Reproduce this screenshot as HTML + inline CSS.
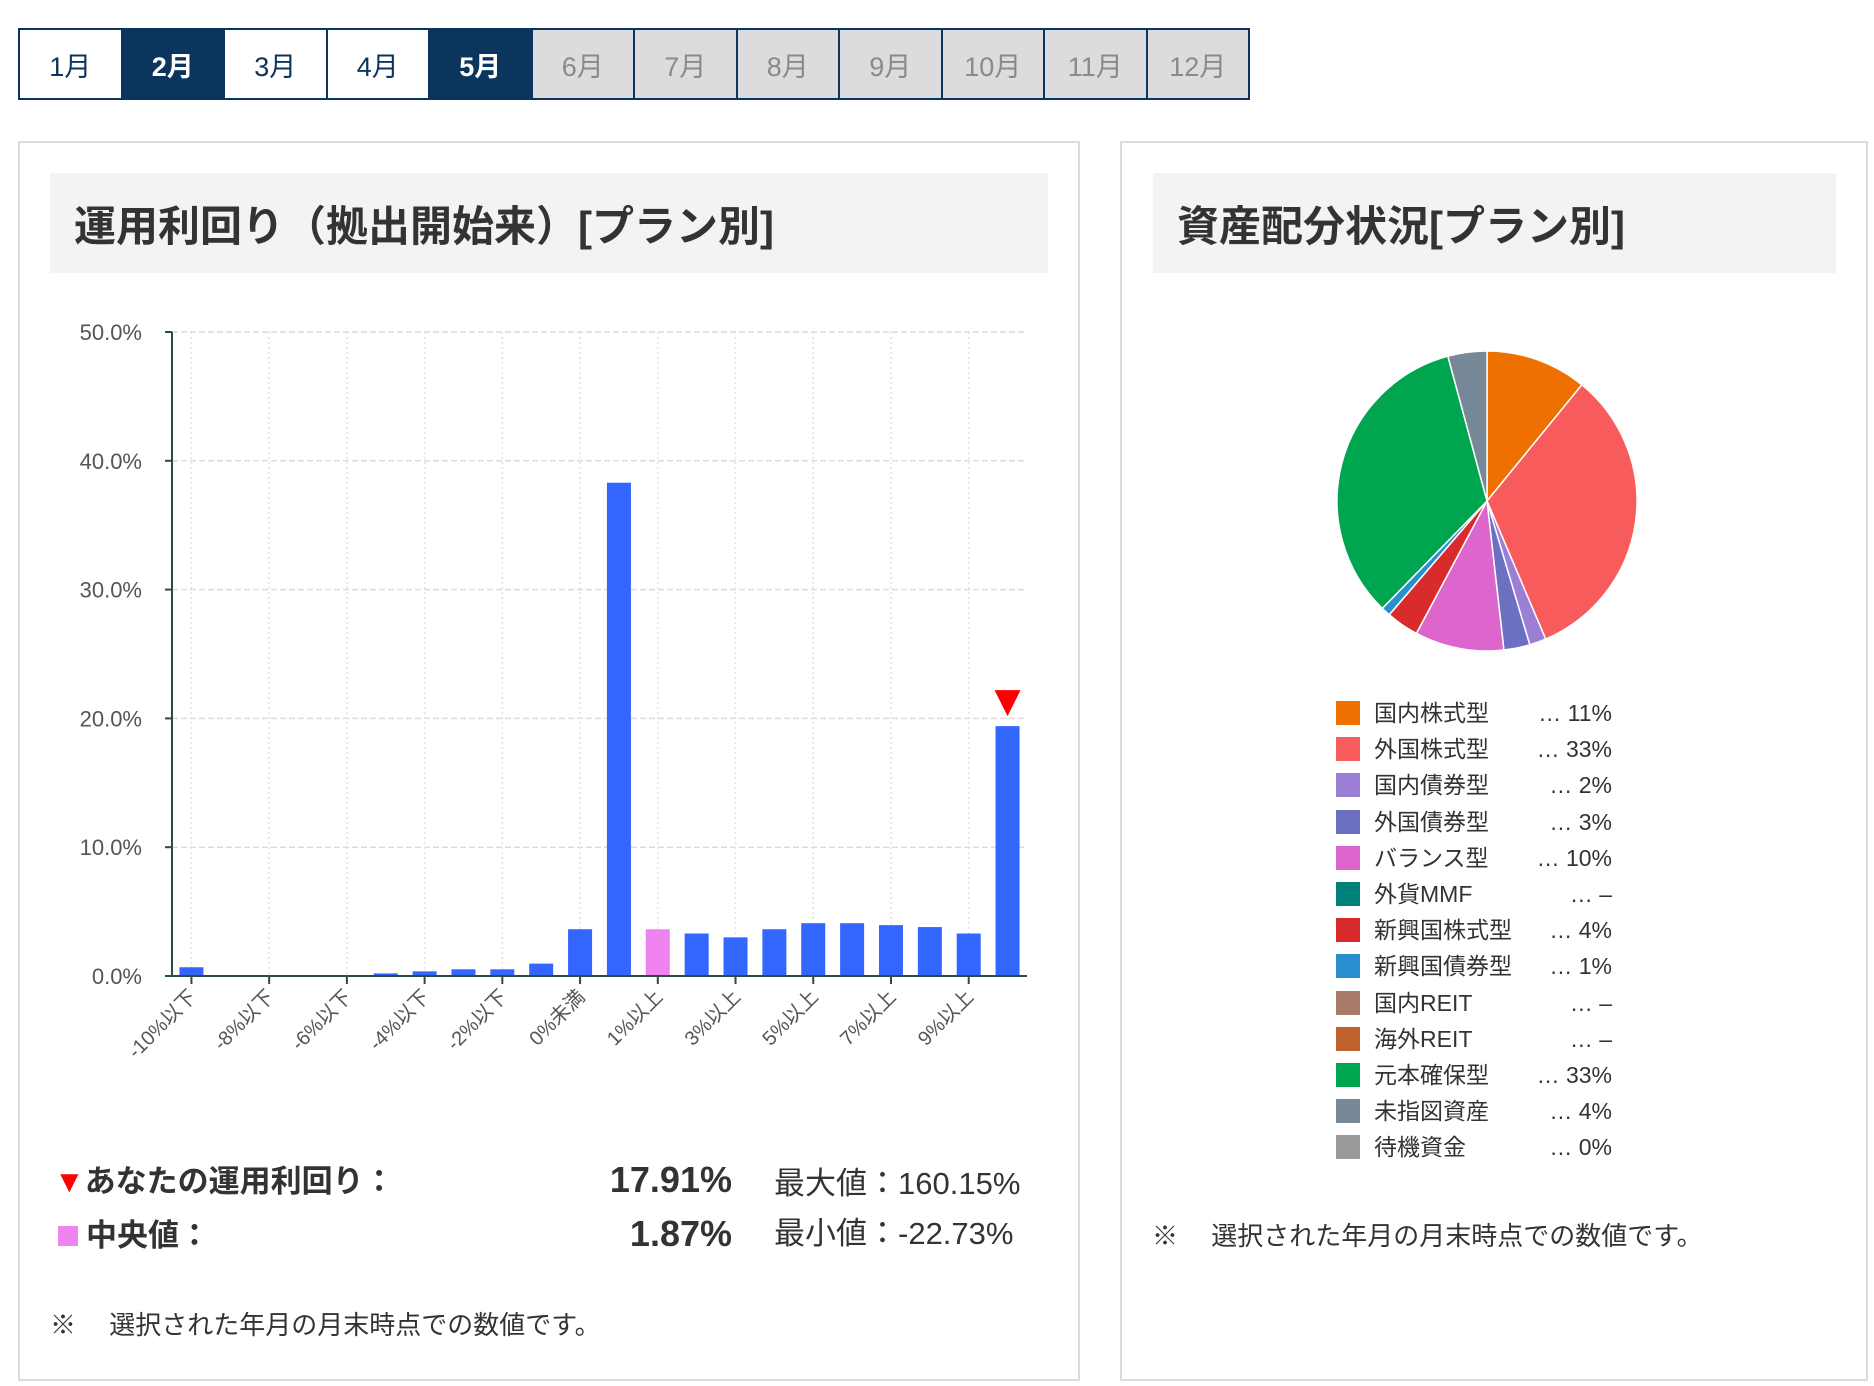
<!DOCTYPE html>
<html><head><meta charset="utf-8">
<style>
html,body{margin:0;padding:0;background:#fff;width:1874px;height:1386px;overflow:hidden;position:relative;font-family:"Liberation Sans","Noto Sans CJK JP",sans-serif;color:#333}
.abs{position:absolute}
.tabs{left:18px;top:28px;display:flex;border:2px solid #0b355c;background:#0b355c}
.tab{width:100.5px;height:68px;margin-right:2px;display:flex;align-items:center;justify-content:center;font-size:27px;background:#fff;color:#0b355c}
.tab:last-child{margin-right:0}
.tab.on{background:#0b355c;color:#fff;font-weight:bold}
.tab.off{background:#dcdcdc;color:#8a8a8a}
.panel{border:2px solid #dedbd2;box-sizing:border-box}
.hdr{background:#f3f3f3;font-weight:bold;font-size:42px;color:#333;display:flex;align-items:center;padding-left:24px;box-sizing:border-box}
.lg{position:absolute;left:1336px;width:280px;height:30px;font-size:23px;color:#333}
.lg .sw{position:absolute;left:0;top:3px;width:24px;height:24px}
.lg .lb{position:absolute;left:38px;top:0;line-height:30px}
.lg .vl{position:absolute;right:4px;top:0;line-height:30px}
</style></head><body>
<div class="abs tabs">
<div class="tab">1月</div>
<div class="tab on">2月</div>
<div class="tab">3月</div>
<div class="tab">4月</div>
<div class="tab on">5月</div>
<div class="tab off">6月</div>
<div class="tab off">7月</div>
<div class="tab off">8月</div>
<div class="tab off">9月</div>
<div class="tab off">10月</div>
<div class="tab off">11月</div>
<div class="tab off">12月</div>
</div>

<div class="abs panel" style="left:18px;top:141px;width:1062px;height:1240px"></div>
<div class="abs hdr" style="left:50px;top:173px;width:998px;height:100px">運用利回り（拠出開始来）[プラン別]</div>

<div class="abs panel" style="left:1120px;top:141px;width:748px;height:1240px"></div>
<div class="abs hdr" style="left:1153px;top:173px;width:683px;height:100px">資産配分状況[プラン別]</div>

<svg class="abs" style="left:0;top:0" width="1874" height="1386">
<g id="bar"></g>
<g id="pie"></g>
</svg>

<div class="abs" style="left:54px;top:1162px;font-size:31px;font-weight:bold;line-height:40px"><span style="color:#f00">▼</span>あなたの運用利回り：</div>
<div class="abs" style="right:1142px;top:1160px;font-size:36px;font-weight:bold;line-height:40px">17.91%</div>
<div class="abs" style="left:58px;top:1226px;width:20px;height:20px;background:#ee82ee"></div>
<div class="abs" style="left:86px;top:1216px;font-size:31px;font-weight:bold;line-height:40px">中央値：</div>
<div class="abs" style="right:1142px;top:1214px;font-size:36px;font-weight:bold;line-height:40px">1.87%</div>
<div class="abs" style="left:774px;top:1164px;font-size:31px;line-height:40px">最大値：160.15%</div>
<div class="abs" style="left:774px;top:1214px;font-size:31px;line-height:40px">最小値：-22.73%</div>
<div class="abs" style="left:50px;top:1309px;font-size:26px;line-height:32px">※　 選択された年月の月末時点での数値です。</div>
<div class="abs" style="left:1152px;top:1220px;font-size:26px;line-height:32px">※　 選択された年月の月末時点での数値です。</div>

<div id="legend"></div>

<script>
// ---- histogram data ----
const categories = ["-10%以下","-9%以下","-8%以下","-7%以下","-6%以下","-5%以下","-4%以下","-3%以下","-2%以下","-1%以下","0%未満","0%以上","1%以上","2%以上","3%以上","4%以上","5%以上","6%以上","7%以上","8%以上","9%以上","10%以上"];
const shares = [0.68,0,0,0,0,0.2,0.36,0.52,0.52,0.96,3.63,38.3,3.63,3.3,3.0,3.63,4.1,4.1,3.95,3.8,3.3,19.4];
const yTicks = [0,10,20,30,40,50];
const yTickLabels = ["0.0%","10.0%","20.0%","30.0%","40.0%","50.0%"];
const medianIndex = 12;
const yourIndex = 21;
// ---- pie data ----
const assetNames = ["国内株式型","外国株式型","国内債券型","外国債券型","バランス型","外貨MMF","新興国株式型","新興国債券型","国内REIT","海外REIT","元本確保型","未指図資産","待機資金"];
const assetShares = [10.9,32.7,1.8,2.8,9.6,0,3.5,1.0,0,0,33.5,4.2,0];
const assetLabels = ["11%","33%","2%","3%","10%","–","4%","1%","–","–","33%","4%","0%"];
const assetColors = ["#ee7000","#f75b5b","#9b7fd4","#6d70c0","#dd66cc","#00807a","#d92b2b","#2a8fcf","#a77a6a","#c0622e","#00a550","#778899","#999999"];

const NS="http://www.w3.org/2000/svg";
function mk(tag,attrs,parent){const e=document.createElementNS(NS,tag);for(const k in attrs)e.setAttribute(k,attrs[k]);parent.appendChild(e);return e;}
const X0=172,X1=1027,Y0=976,Y50=332;
const band=(X1-X0)/categories.length;
const xC=i=>X0+band*(i+0.5);
const yS=v=>Y0-(v/50)*(Y0-Y50);
const bar=document.getElementById('bar');
yTicks.forEach((t,i)=>{
  const y=yS(t);
  if(t>0){const g=mk('line',{x1:X0,x2:X1,y1:y,y2:y,stroke:'#dcdcdc','stroke-width':1.5,'stroke-dasharray':'6,3'},bar);
  
  }
  const tk=mk('line',{x1:X0-7,x2:X0,y1:y,y2:y,stroke:'#2b4a4a','stroke-width':2},bar);
  
  
  const tx=mk('text',{x:X0-30,y:y+8,'text-anchor':'end','font-size':22,fill:'#555'},bar);
  tx.textContent=yTickLabels[i];
  
  
});
categories.forEach((c,i)=>{
  if(i%2===0){
    const x=xC(i);
    const g=mk('line',{x1:x,x2:x,y1:Y50,y2:Y0,stroke:'#e2e2e2','stroke-width':1.5,'stroke-dasharray':'2,3'},bar);
    
    
    const tk=mk('line',{x1:x,x2:x,y1:Y0,y2:Y0+8,stroke:'#2b4a4a','stroke-width':2},bar);
    
    
    const tx=mk('text',{x:x+6,y:Y0+22,'text-anchor':'end','font-size':20,fill:'#555',transform:`rotate(-45 ${x+6} ${Y0+22})`},bar);
    tx.textContent=c;
    
    
  }
});
shares.forEach((v,i)=>{
  if(v<=0)return;
  const r=mk('rect',{x:xC(i)-12,y:yS(v),width:24,height:Y0-yS(v),fill:i===medianIndex?'#ee82ee':'#3366ff'},bar);
  
  
});
const ax=mk('path',{d:`M${X0} ${Y50}V${Y0}H${X1}`,fill:'none',stroke:'#2b4a4a','stroke-width':2},bar);


{
  const x=xC(yourIndex),y=yS(shares[yourIndex])-10;
  const tri=mk('path',{d:`M${x-13} ${y-26}H${x+13}L${x} ${y}Z`,fill:'#f00'},bar);
  
  
}
// pie
const pie=document.getElementById('pie');
const CX=1487,CY=501,R=150;
const total=assetShares.reduce((a,b)=>a+b,0);
let acc=0;
assetShares.forEach((v,i)=>{
  if(v<=0)return;
  const a0=acc/total*2*Math.PI; acc+=v; const a1=acc/total*2*Math.PI;
  const p0=[CX+R*Math.sin(a0),CY-R*Math.cos(a0)],p1=[CX+R*Math.sin(a1),CY-R*Math.cos(a1)];
  const large=(a1-a0)>Math.PI?1:0;
  const s=mk('path',{d:`M${CX} ${CY}L${p0[0]} ${p0[1]}A${R} ${R} 0 ${large} 1 ${p1[0]} ${p1[1]}Z`,fill:assetColors[i],stroke:'#fff','stroke-width':1.5},pie);
  
  
});
// legend
const lg=document.getElementById('legend');
assetNames.forEach((n,i)=>{
  const row=document.createElement('div');
  row.className='lg';
  row.style.top=(698+i*36.2)+'px';
  
  
  row.innerHTML=`<div class="sw" style="background:${assetColors[i]}"></div><div class="lb">${n}</div><div class="vl">… ${assetLabels[i]}</div>`;
  lg.appendChild(row);
});
</script>
</body></html>
